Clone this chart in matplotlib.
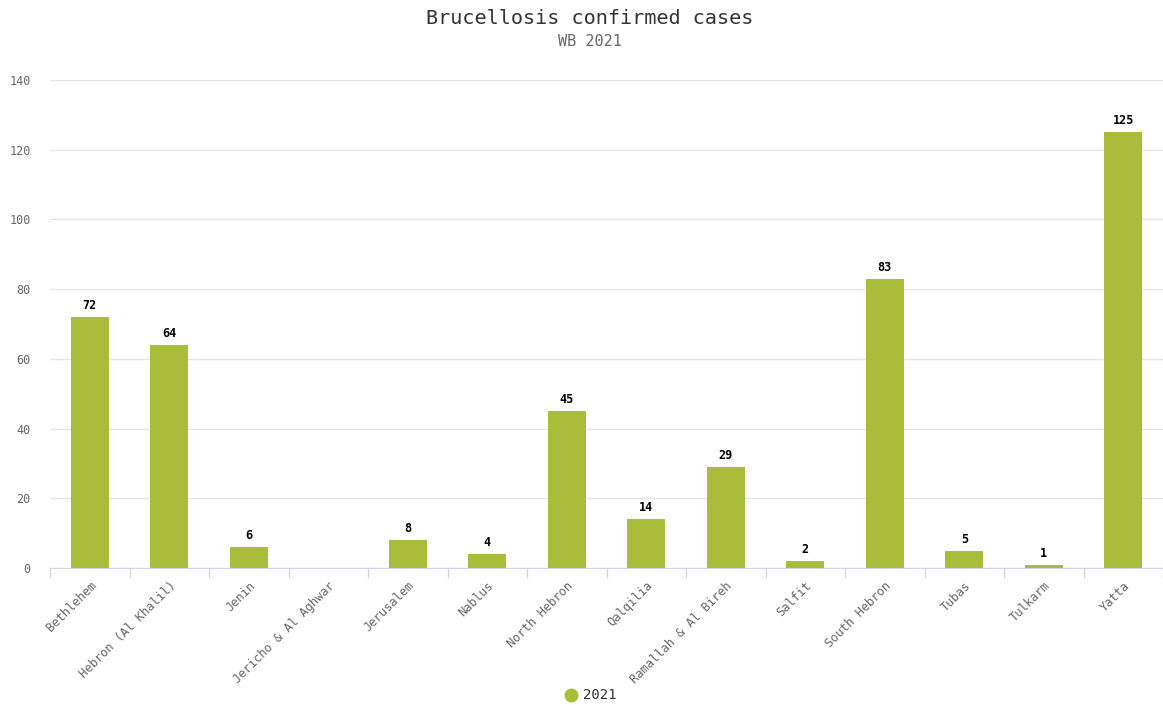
import numpy as np
import matplotlib
matplotlib.use("Agg")
import matplotlib.pyplot as plt

# Brucellosis confirmed cases by district, West Bank 2021
districts = [
    "Bethlehem", "Hebron (Al Khalil)", "Jenin", "Jericho & Al Aghwar",
    "Jerusalem", "Nablus", "North Hebron", "Qalqilia",
    "Ramallah & Al Bireh", "Salfit", "South Hebron", "Tubas",
    "Tulkarm", "Yatta",
]
cases = [72, 64, 6, 0, 8, 4, 45, 14, 29, 2, 83, 5, 1, 125]
series_name = "2021"
y_ticks = [0, 20, 40, 60, 80, 100, 120, 140]

bar_colour = "#a9bd3a"
mono = "DejaVu Sans Mono"

fig = plt.figure(figsize=(11.63, 7.05), dpi=100)
ax = fig.add_axes([50 / 1163, 1 - 568 / 705, 1 - 50 / 1163, (568 - 80) / 705])

x = np.arange(len(districts))
bars = ax.bar(x, cases, width=0.48, color=bar_colour, zorder=3)

for xi, v in zip(x, cases):
    if v > 0:
        ax.annotate(str(v), (xi, v), xytext=(0, 3.5), textcoords="offset points",
                    ha="center", va="bottom", fontsize=8.5, fontweight="bold",
                    family=mono, color="#000000")

ax.set_xlim(-0.5, len(districts) - 0.5)
ax.set_ylim(0, 140)
ax.set_yticks(y_ticks)
ax.set_yticklabels([str(t) for t in y_ticks], family=mono, fontsize=8.5, color="#666666")
ax.tick_params(axis="y", length=0, pad=14)
ax.grid(axis="y", color="#e6e6e6", linewidth=1, zorder=0)

# category boundaries as ticks, labels centred on bars
ax.set_xticks(np.arange(-0.5, len(districts)), minor=False)
ax.set_xticklabels([])
ax.tick_params(axis="x", which="major", length=7, color="#ccd6eb", width=1)
ax.set_xticks(x, minor=True)
ax.set_xticklabels(districts, minor=True, rotation=45, ha="right",
                   rotation_mode="anchor", family=mono, fontsize=8.7, color="#666666")
ax.tick_params(axis="x", which="minor", length=0, pad=8)

for side in ["top", "right", "left"]:
    ax.spines[side].set_visible(False)
ax.spines["bottom"].set_color("#ccd6eb")

fig.text(590 / 1163, 1 - 18 / 705, "Brucellosis confirmed cases", ha="center", va="center",
         family=mono, fontsize=14.5, color="#333333")
fig.text(590 / 1163, 1 - 41 / 705, "WB 2021", ha="center", va="center",
         family=mono, fontsize=11, color="#666666")

# legend
fig.lines.append(plt.Line2D([571 / 1163], [1 - 695 / 705], marker="o", markersize=9,
                            color=bar_colour, linestyle="none", transform=fig.transFigure))
fig.text(583 / 1163, 1 - 695 / 705, series_name, ha="left", va="center",
         family=mono, fontsize=10, color="#333333")

fig.savefig("out.png", dpi=100)
